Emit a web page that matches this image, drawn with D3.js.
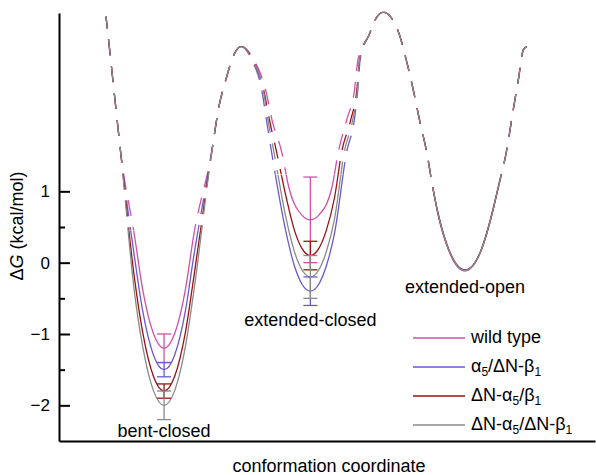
<!DOCTYPE html>
<html><head><meta charset="utf-8">
<script src="https://cdn.jsdelivr.net/npm/d3@7"></script>
<style>
body{margin:0;background:#fff;}
svg{display:block;font-family:"Liberation Sans",Arial,sans-serif;}
</style></head><body>
<svg id="chart" width="596" height="475"></svg>
<script>
// ---------- data ----------
const seriesNames = ["wild type", "α5/ΔN-β1", "ΔN-α5/β1", "ΔN-α5/ΔN-β1"];
const legendParts = [
  [["wild type",0]],
  [["α",0],["5",1],["/ΔN-β",0],["1",1]],
  [["ΔN-α",0],["5",1],["/β",0],["1",1]],
  [["ΔN-α",0],["5",1],["/ΔN-β",0],["1",1]]
];
const wellNames = ["bent-closed", "extended-closed", "extended-open"];
const wellCenters = [1.96, 4.69, 7.575];
const wellBounds = [[0, 3.40], [3.40, 6.05], [6.05, 10]];
const solidBelow = [0.45, 1.23, 1.06];

const yMajorTicks = [-2, -1, 0, 1];
const yMinorTicks = [-1.5, -0.5, 0.5];

// shared barrier segments [coordinate, ΔG]
const leftWall = [[0.877,3.45],[0.951,2.94],[1.045,2.28],[1.15,1.55]];
const barrier1 = [[2.855,1.58],[2.972,2.14],[3.13,2.61],[3.25,2.89],[3.40,3.03]];
const barrier2 = [[5.80,3.22],[5.877,3.37],[6.05,3.51],[6.33,3.24],[6.486,2.82],[6.61,2.42],[6.735,1.97],[6.86,1.55],[6.972,1.06]];
const rightWall = [[8.196,1.06],[8.353,1.58],[8.465,2.10],[8.569,2.56],[8.662,2.98],[8.731,3.03]];

// per-series well segments
const well1 = [
  [[1.41,0.37],[1.56,-0.37],[1.76,-0.99],[1.96,-1.2],[2.16,-0.99],[2.36,-0.37],[2.51,0.37]],
  [[1.41,0.07],[1.56,-0.67],[1.76,-1.29],[1.96,-1.5],[2.16,-1.29],[2.36,-0.67],[2.51,0.07]],
  [[1.41,-0.23],[1.56,-0.97],[1.76,-1.59],[1.96,-1.8],[2.16,-1.59],[2.36,-0.97],[2.51,-0.23]],
  [[1.41,-0.43],[1.56,-1.17],[1.76,-1.79],[1.96,-2.0],[2.16,-1.79],[2.36,-1.17],[2.51,-0.43]]
];
const well2 = [
  [[3.63,2.85],[3.862,2.40],[3.974,2.0],[4.155,1.55],[4.29,1.05],[4.54,0.66],[4.69,0.6],[4.84,0.66],[5.09,1.05],[5.211,1.55],[5.367,2.0],[5.509,2.4],[5.58,2.85]],
  [[3.59,2.85],[3.787,2.40],[3.87,2.0],[3.966,1.55],[4.24,0.41],[4.39,-0.04],[4.54,-0.31],[4.69,-0.4],[4.84,-0.31],[4.99,-0.04],[5.14,0.41],[5.367,1.55],[5.509,2.0],[5.572,2.4],[5.62,2.85]],
  [[3.61,2.85],[3.825,2.40],[3.927,2.0],[4.06,1.55],[4.24,0.91],[4.39,0.46],[4.54,0.19],[4.69,0.1],[4.84,0.19],[4.99,0.46],[5.14,0.91],[5.274,1.55],[5.442,2.0],[5.554,2.4],[5.61,2.85]],
  [[3.60,2.85],[3.815,2.40],[3.90,2.0],[4.01,1.55],[4.24,0.61],[4.39,0.16],[4.54,-0.11],[4.69,-0.2],[4.84,-0.11],[4.99,0.16],[5.14,0.61],[5.323,1.55],[5.479,2.0],[5.565,2.4],[5.61,2.85]]
];
const well3 = [
  [[7.078,0.675],[7.278,0.175],[7.428,-0.035],[7.578,-0.10],[7.728,-0.035],[7.878,0.175],[8.078,0.675]],
  [[7.072,0.675],[7.272,0.17],[7.422,-0.045],[7.572,-0.115],[7.722,-0.045],[7.872,0.17],[8.072,0.675]],
  [[7.076,0.675],[7.276,0.175],[7.426,-0.035],[7.576,-0.105],[7.726,-0.035],[7.876,0.175],[8.076,0.675]],
  [[7.075,0.675],[7.275,0.172],[7.425,-0.04],[7.575,-0.11],[7.725,-0.04],[7.875,0.172],[8.075,0.675]]
];

// error bars: [bent-closed, extended-closed]
const errX = [1.96, 4.69];
const errMean = [[-1.2, 0.6], [-1.5, -0.4], [-1.8, 0.1], [-2.0, -0.2]];
const errSize = [[0.2, 0.6], [0.1, 0.2], [0.1, 0.2], [0.2, 0.3]];

// ---------- styles ----------
const colors = ["#d24fa8", "#6a5acd", "#9b1111", "#8a8a8a"];
const dashPattern = "16,11";

// ---------- chart ----------
const svg = d3.select("#chart");
const x = d3.scaleLinear().domain([0, 10]).range([59, 595]);
const y = d3.scaleLinear().domain([-2.5, 3.5]).range([441, 13]);

const defs = svg.append("defs");
const clipSolid = defs.append("clipPath").attr("id", "clipSolid");
wellBounds.forEach((b, j) => {
  clipSolid.append("rect").attr("x", x(b[0])).attr("width", x(b[1]) - x(b[0]))
    .attr("y", y(solidBelow[j])).attr("height", y(-2.5) - y(solidBelow[j]) + 5);
});

const line = d3.line().x(d => x(d[0])).y(d => y(d[1])).curve(d3.curveMonotoneX);
const poly = d3.line();

function wellIndex(px) {
  const v = x.invert(px);
  for (let j = 0; j < wellBounds.length; j++) if (v < wellBounds[j][1]) return j;
  return wellBounds.length - 1;
}

seriesNames.forEach((name, i) => {
  const pts = [...leftWall, ...well1[i], ...barrier1, ...well2[i], ...barrier2, ...well3[i], ...rightWall];
  const d = line(pts);
  // solid part (inside wells)
  svg.append("path").attr("d", d)
    .attr("fill", "none").attr("stroke", colors[i]).attr("stroke-width", 1.3)
    .attr("clip-path", "url(#clipSolid)");
  // dashed parts: split the same curve into runs, each starting from its high end
  const tmp = svg.append("path").attr("d", d).attr("fill", "none").attr("stroke", "none");
  const node = tmp.node(), total = node.getTotalLength();
  const runs = []; let cur = null, curJ = -1;
  for (let s = 0; s <= total; s += 0.5) {
    const p = node.getPointAtLength(Math.min(s, total));
    const j = wellIndex(p.x);
    const dashed = p.y < y(solidBelow[j]);
    if (dashed && cur && j === curJ) cur.push([p.x, p.y]);
    else if (dashed) { cur = [[p.x, p.y]]; curJ = j; runs.push(cur); }
    else cur = null;
  }
  tmp.remove();
  runs.forEach(r => {
    if (r[0][1] > r[r.length - 1][1]) r.reverse();
    svg.append("path").attr("d", poly(r))
      .attr("fill", "none").attr("stroke", colors[i]).attr("stroke-width", 1.3)
      .attr("stroke-dasharray", dashPattern).attr("stroke-dashoffset", 4);
  });
});

// error bars
seriesNames.forEach((name, i) => {
  errX.forEach((ex, j) => {
    const g = svg.append("g").attr("stroke", colors[i]).attr("stroke-width", 1.3);
    const cx = x(ex), top = y(errMean[i][j] + errSize[i][j]), bot = y(errMean[i][j] - errSize[i][j]);
    g.append("line").attr("x1", cx).attr("x2", cx).attr("y1", top).attr("y2", bot);
    g.append("line").attr("x1", cx - 7).attr("x2", cx + 7).attr("y1", top).attr("y2", top);
    g.append("line").attr("x1", cx - 7).attr("x2", cx + 7).attr("y1", bot).attr("y2", bot);
  });
});

// axes
const yAxis = svg.append("g").attr("transform", "translate(59,0)")
  .call(d3.axisLeft(y).tickValues(yMajorTicks).tickSize(-11).tickSizeOuter(0).tickPadding(9)
    .tickFormat(d3.format("d")));
yAxis.select(".domain").attr("stroke-width", 2);
yAxis.selectAll(".tick line").attr("stroke-width", 2);
yAxis.selectAll(".tick text").attr("font-size", 17).attr("font-family", "Liberation Sans, Arial, sans-serif").attr("fill", "#000");

const yMinor = svg.append("g").attr("transform", "translate(59,0)")
  .call(d3.axisLeft(y).tickValues(yMinorTicks).tickSize(-6).tickSizeOuter(0).tickFormat(""));
yMinor.select(".domain").remove();
yMinor.selectAll(".tick line").attr("stroke-width", 2);

const xAxis = svg.append("g").attr("transform", "translate(0,441)")
  .call(d3.axisBottom(x).tickValues([]).tickSizeOuter(0));
xAxis.select(".domain").attr("stroke-width", 2);

// axis titles
const yl = svg.append("text").attr("transform", "translate(23,226) rotate(-90)")
  .attr("text-anchor", "middle").attr("font-size", 18).attr("fill", "#000");
yl.append("tspan").text("Δ");
yl.append("tspan").attr("font-style", "italic").text("G");
yl.append("tspan").text(" (kcal/mol)");

svg.append("text").attr("x", 329).attr("y", 472).attr("text-anchor", "middle")
  .attr("font-size", 18).attr("fill", "#000").text("conformation coordinate");

// well labels
const wellLabelY = [437, 326, 293];
wellNames.forEach((n, j) => {
  svg.append("text").attr("x", x(wellCenters[j])).attr("y", wellLabelY[j])
    .attr("text-anchor", "middle").attr("font-size", 18).attr("fill", "#000").text(n);
});

// legend
legendParts.forEach((parts, i) => {
  const ly = 338 + i * 29;
  svg.append("line").attr("x1", 413).attr("x2", 465).attr("y1", ly).attr("y2", ly)
    .attr("stroke", colors[i]).attr("stroke-width", 1.3);
  const t = svg.append("text").attr("x", 471).attr("y", ly + 5).attr("font-size", 18).attr("fill", "#000");
  let prevSub = false;
  parts.forEach(([s, sub]) => {
    const ts = t.append("tspan").text(s);
    if (sub) { ts.attr("font-size", 12).attr("dy", 4); prevSub = true; }
    else if (prevSub) { ts.attr("dy", -4); prevSub = false; }
  });
});
</script></body></html>
